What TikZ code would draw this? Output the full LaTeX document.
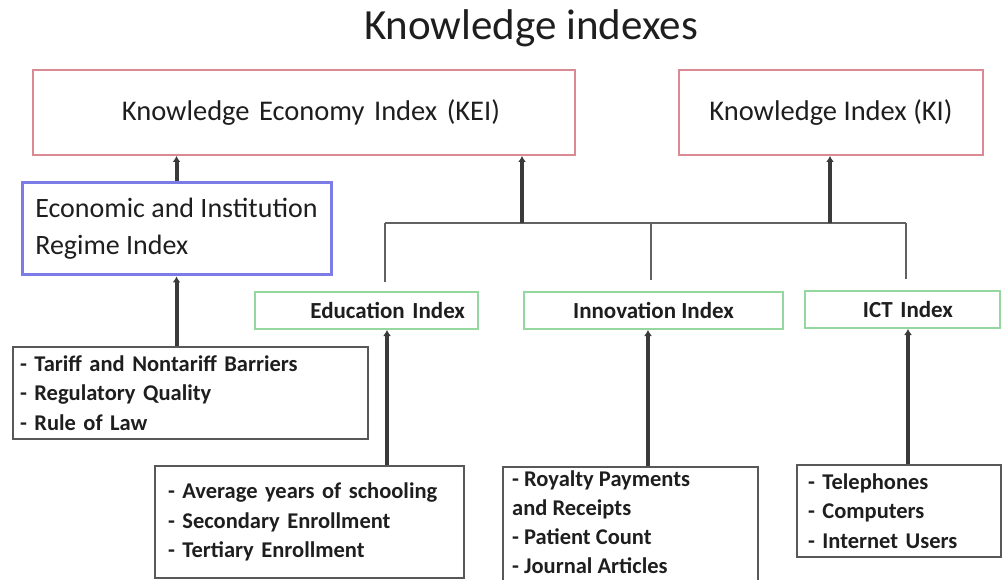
\documentclass[tikz,border=0pt]{standalone}
\usepackage{fontspec}
\setmainfont{Carlito}
\usetikzlibrary{arrows.meta}

\definecolor{kired}{HTML}{D98A92}
\definecolor{regblue}{HTML}{7C7CE6}
\definecolor{idxgreen}{HTML}{94D8A0}
\definecolor{linegray}{HTML}{3A3A3A}
\definecolor{inkgray}{HTML}{1E1E1E}

\begin{document}
\begin{tikzpicture}[x=1pt,y=-1pt,
  every node/.style={text=inkgray, inner sep=0pt},
  topbox/.style={draw=kired, line width=2pt, minimum height=85pt,
    font=\fontsize{28.5}{32}\selectfont},
  regbox/.style={draw=regblue, line width=3pt, align=left,
    font=\fontsize{28}{37}\selectfont},
  idxbox/.style={draw=idxgreen, line width=2pt, minimum height=37pt,
    font=\bfseries\fontsize{23}{26}\selectfont},
  listbox/.style={draw=linegray!85, line width=2.5pt, align=left,
    font=\bfseries\fontsize{22.5}{29.5}\selectfont},
  up/.style={draw=linegray, line width=4pt, -{Latex[length=6pt,width=8pt]}},
  bus/.style={draw=linegray!80, line width=2.5pt}]
  \useasboundingbox (0,0) rectangle (1002,580);

  % title and the two top indexes
  \node[anchor=base, font=\fontsize{43}{50}\selectfont] (title) at (531,40) {Knowledge indexes};
  \node[topbox, minimum width=542pt, inner xsep=75pt, text width=392pt, align=right] (kei) at (304,112.5) {Knowledge Economy Index (KEI)};
  \node[topbox, minimum width=304pt] (ki) at (831,112.5) {Knowledge Index (KI)};

  % sub indexes
  \node[regbox, minimum width=309pt, minimum height=92pt] (econ) at (176.5,229) {Economic and Institution\\Regime Index};
  \node[idxbox, minimum width=223pt, inner xsep=13pt, text width=197pt, align=right] (edu) at (366.5,310.5) {Education Index};
  \node[idxbox, minimum width=259pt] (innov) at (653.5,310.5) {Innovation Index};
  \node[idxbox, minimum width=195pt, inner xsep=47pt, text width=101pt, align=right] (ict) at (902.5,309.5) {ICT Index};

  % variables
  \node[listbox, minimum height=92pt, inner xsep=7pt, text width=341pt] (tariff) at (190.5,393)
    {- Tariff and Nontariff Barriers\\- Regulatory Quality\\- Rule of Law};
  \node[listbox, minimum height=112pt, inner xsep=13pt, text width=283pt] (edul) at (309.5,522)
    {- Average years of schooling\\- Secondary Enrollment\\- Tertiary Enrollment};
  \node[listbox, minimum width=255pt, minimum height=115pt] (innovl) at (630.5,524.5) {};
  \node[align=left, anchor=north west, font=\bfseries\fontsize{22.5}{29}\selectfont] (innovtxt) at (512,471)
    {- Royalty Payments\\and Receipts\\- Patient Count\\- Journal Articles};
  \node[listbox, minimum height=92pt, inner xsep=11pt, text width=182pt] (ictl) at (899,511)
    {- Telephones\\- Computers\\- Internet Users};

  % bus between KEI, KI and the three indexes
  \coordinate (bl) at (385,223);
  \coordinate (br) at (906,223);
  \coordinate (bm) at (651,223);
  \coordinate (bkei) at (522,223);
  \coordinate (bki) at (830,223);
  \draw[bus] (bl) -- (br);
  \draw[bus, shorten >=9pt] (bl) -- (bl |- edu.north);
  \draw[bus, shorten >=11pt] (bm) -- (bm |- innov.north);
  \draw[bus, shorten >=11pt] (br) -- (br |- ict.north);
  \draw[up] (bkei) -- (bkei |- kei.south);
  \draw[up] (bki) -- (bki |- ki.south);

  % arrows up from the variables
  \coordinate (xedu) at (387,0);
  \coordinate (xinnov) at (648,0);
  \coordinate (xict) at (908,0);
  \draw[up] (econ.north) -- (econ.north |- kei.south);
  \draw[up] (econ.south |- tariff.north) -- (econ.south);
  \draw[up] (edul.north -| xedu) -- (xedu |- edu.south);
  \draw[up] (innovl.north -| xinnov) -- (xinnov |- innov.south);
  \draw[up] (ictl.north -| xict) -- (xict |- ict.south);
\end{tikzpicture}
\end{document}
